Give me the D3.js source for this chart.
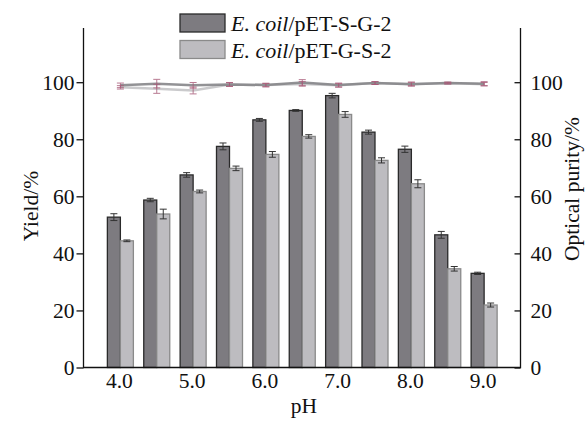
<!DOCTYPE html>
<html><head><meta charset="utf-8">
<script src="https://cdn.jsdelivr.net/npm/d3@7"></script>
<style>body{margin:0;background:#fff}svg{display:block}text{font-family:"Liberation Serif","Times New Roman",serif;fill:#111}</style>
</head><body>
<svg id="c" width="585" height="421"></svg>
<script>
const pH = ["4.0","4.5","5.0","5.5","6.0","6.5","7.0","7.5","8.0","8.5","9.0"];
const xTickLabels = ["4.0","5.0","6.0","7.0","8.0","9.0"];
const yTicks = [0,20,40,60,80,100];
const seriesNames = ["pET-S-G-2","pET-G-S-2"];
const yieldSG = [52.7,58.7,67.5,77.5,86.8,90.1,95.3,82.5,76.5,46.5,33.0];
const yieldSGErr = [1.2,0.6,0.8,1.2,0.5,0.3,0.8,0.7,1.1,1.2,0.4];
const yieldGS = [44.4,53.8,61.7,69.8,74.7,81.0,88.7,72.6,64.4,34.6,21.9];
const yieldGSErr = [0.3,1.7,0.5,0.8,1.0,0.6,1.0,0.9,1.4,0.8,0.7];
const puritySG = [98.9,99.5,98.9,99.2,99.0,99.9,99.0,99.7,99.3,99.7,99.5];
const puritySGErr = [0.8,1.5,1.0,0.7,0.6,1.0,0.7,0.5,0.7,0.3,0.7];
const purityGS = [98.2,97.7,97.1,99.2,99.0,99.4,98.9,99.7,99.4,99.7,99.3];
const purityGSErr = [0.6,1.6,1.2,0.6,0.6,0.8,0.6,0.5,0.6,0.3,0.6];

const svg = d3.select("#c");
const L = 83.5, R = 520.5, T = 28, B = 367.5;
const FS = 21.5;
const x = d3.scalePoint().domain(pH).range([84, R]).padding(1);
const y = d3.scaleLinear().domain([0,119]).range([B, T]);
const bw = 13;
const darkFill = "#7d7b80", lightFill = "#bdbcc0";

const g = svg.append("g");
function bars(vals, errs, off, fill, stroke){
  g.selectAll(null).data(vals).enter().append("rect")
    .attr("x",(d,i)=>x(pH[i])+off).attr("width",bw)
    .attr("y",d=>y(d)).attr("height",d=>B-y(d))
    .attr("fill",fill).attr("stroke",stroke).attr("stroke-width",1.3);
  const eg = g.append("g").attr("stroke","#333").attr("stroke-width",1);
  vals.forEach((d,i)=>{
    const cx = x(pH[i])+off+bw/2, e = errs[i];
    eg.append("line").attr("x1",cx).attr("x2",cx).attr("y1",y(d+e)).attr("y2",y(d-e));
    eg.append("line").attr("x1",cx-3.5).attr("x2",cx+3.5).attr("y1",y(d+e)).attr("y2",y(d+e));
    eg.append("line").attr("x1",cx-3.5).attr("x2",cx+3.5).attr("y1",y(d-e)).attr("y2",y(d-e));
  });
}
bars(yieldSG, yieldSGErr, -bw, darkFill, "#2a2a2a");
bars(yieldGS, yieldGSErr, 0, lightFill, "#8a8a8a");

function pline(vals, col){
  const line = d3.line().x((d,i)=>x(pH[i])).y(d=>y(d));
  g.append("path").datum(vals).attr("d",line).attr("fill","none")
    .attr("stroke",col).attr("stroke-width",2.5).attr("opacity",0.9);
}
function perr(vals, errs){
  const eg = g.append("g").attr("stroke","#a85b78").attr("stroke-width",1).attr("opacity",0.8);
  vals.forEach((d,i)=>{
    const cx = x(pH[i]), e = errs[i];
    eg.append("line").attr("x1",cx).attr("x2",cx).attr("y1",y(d+e)).attr("y2",y(d-e));
    eg.append("line").attr("x1",cx-3.5).attr("x2",cx+3.5).attr("y1",y(d+e)).attr("y2",y(d+e));
    eg.append("line").attr("x1",cx-3.5).attr("x2",cx+3.5).attr("y1",y(d-e)).attr("y2",y(d-e));
  });
}
pline(purityGS, "#c4c4c6");
pline(puritySG, "#86868a");
perr(purityGS, purityGSErr);
perr(puritySG, puritySGErr);

const ax = svg.append("g").attr("stroke","#111").attr("stroke-width",1.3).attr("fill","none");
ax.append("path").attr("d",`M${L},${T}V${B}H${R}V${T}`);
const yAxisL = d3.axisLeft(y).tickValues(yTicks).tickSize(7).tickFormat(d3.format("d"));
const gl = svg.append("g").attr("transform",`translate(${L},0)`).call(yAxisL);
gl.select(".domain").remove();
gl.selectAll("line").attr("stroke","#111").attr("stroke-width",1.3);
gl.selectAll("text").attr("font-size",FS).attr("x",-9).attr("dy","0.34em");
const yAxisR = d3.axisRight(y).tickValues(yTicks).tickSize(-6).tickFormat(d3.format("d"));
const gr = svg.append("g").attr("transform",`translate(${R},0)`).call(yAxisR);
gr.select(".domain").remove();
gr.selectAll("line").attr("stroke","#111").attr("stroke-width",1.3);
gr.selectAll("text").attr("font-size",FS).attr("x",10).attr("dy","0.34em");

svg.selectAll(".xl").data(xTickLabels).enter().append("text")
  .attr("x",d=>x(d)-1).attr("y",388).attr("text-anchor","middle").attr("font-size",FS).text(d=>d);
svg.append("text").attr("x",304).attr("y",413).attr("text-anchor","middle").attr("font-size",FS).text("pH");
svg.append("text").attr("transform","translate(38,206) rotate(-90)").attr("text-anchor","middle").attr("font-size",FS).text("Yield/%");
svg.append("text").attr("transform","translate(579,189) rotate(-90)").attr("text-anchor","middle").attr("font-size",FS).text("Optical purity/%");

const lg = svg.append("g");
[[darkFill,"#2a2a2a",seriesNames[0],14],[lightFill,"#8a8a8a",seriesNames[1],40.5]].forEach(([f,s,n,yy])=>{
  lg.append("rect").attr("x",180).attr("y",yy).attr("width",45).attr("height",18).attr("fill",f).attr("stroke",s).attr("stroke-width",1.3);
  const t = lg.append("text").attr("x",231).attr("y",yy+17).attr("font-size",22);
  t.append("tspan").attr("font-style","italic").text("E. coil");
  t.append("tspan").text("/"+n);
});
</script>
</body></html>
